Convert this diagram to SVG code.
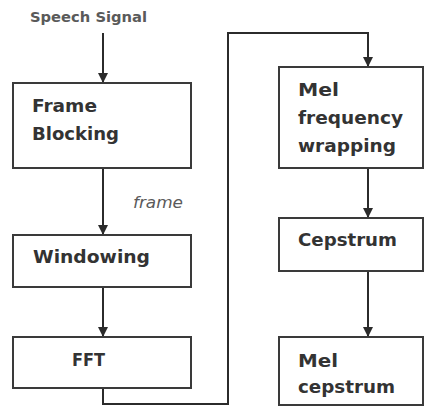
<svg xmlns="http://www.w3.org/2000/svg" width="425" height="408" viewBox="0 0 425 408">
  <defs>
    <marker id="arrow" viewBox="0 0 10 10" refX="10" refY="5" markerWidth="10" markerHeight="10" markerUnits="userSpaceOnUse" orient="auto">
      <path d="M0,0 L10,5 L0,10 Z" fill="#2b2b2b"/>
    </marker>
    <style>
      .box { fill: #ffffff; stroke: #3a3a3a; stroke-width: 2; }
      .lbl { font-family: "DejaVu Sans", "Liberation Sans", sans-serif; font-weight: bold; font-size: 18px; fill: #333333; }
      .note { font-family: "DejaVu Sans", "Liberation Sans", sans-serif; fill: #5a5a5a; }
      .wire { fill: none; stroke: #2b2b2b; stroke-width: 2; }
    </style>
  </defs>
  <rect width="425" height="408" fill="#ffffff"/>

  <text class="note" x="30" y="22" font-size="14" font-weight="bold" textLength="117" lengthAdjust="spacingAndGlyphs">Speech Signal</text>
  <text class="note" x="133" y="208" font-size="15" font-style="italic" textLength="50" lengthAdjust="spacingAndGlyphs">frame</text>

  <g id="connectors">
    <line class="wire" x1="103" y1="33" x2="103" y2="83" marker-end="url(#arrow)"/>
    <line class="wire" x1="103" y1="168" x2="103" y2="235" marker-end="url(#arrow)"/>
    <line class="wire" x1="103" y1="287" x2="103" y2="337" marker-end="url(#arrow)"/>
    <polyline class="wire" points="103,388 103,404 228,404 228,33 368,33 368,67" marker-end="url(#arrow)"/>
    <line class="wire" x1="368" y1="168" x2="368" y2="218" marker-end="url(#arrow)"/>
    <line class="wire" x1="368" y1="271" x2="368" y2="337" marker-end="url(#arrow)"/>
  </g>

  <g id="frame-blocking">
    <rect class="box" x="13" y="83" width="178" height="85"/>
    <text class="lbl" x="32" y="112" textLength="65" lengthAdjust="spacingAndGlyphs">Frame</text>
    <text class="lbl" x="32" y="140" textLength="87" lengthAdjust="spacingAndGlyphs">Blocking</text>
  </g>
  <g id="windowing">
    <rect class="box" x="13" y="235" width="178" height="52"/>
    <text class="lbl" x="33" y="263" textLength="117" lengthAdjust="spacingAndGlyphs">Windowing</text>
  </g>
  <g id="fft">
    <rect class="box" x="13" y="337" width="178" height="51"/>
    <text class="lbl" x="72" y="366" textLength="33" lengthAdjust="spacingAndGlyphs">FFT</text>
  </g>
  <g id="mel-frequency-wrapping">
    <rect class="box" x="279" y="67" width="144" height="101"/>
    <text class="lbl" x="298" y="96" textLength="41" lengthAdjust="spacingAndGlyphs">Mel</text>
    <text class="lbl" x="298" y="124" textLength="105" lengthAdjust="spacingAndGlyphs">frequency</text>
    <text class="lbl" x="298" y="152" textLength="98" lengthAdjust="spacingAndGlyphs">wrapping</text>
  </g>
  <g id="cepstrum">
    <rect class="box" x="279" y="218" width="144" height="53"/>
    <text class="lbl" x="298" y="246" textLength="99" lengthAdjust="spacingAndGlyphs">Cepstrum</text>
  </g>
  <g id="mel-cepstrum">
    <rect class="box" x="279" y="337" width="144" height="68"/>
    <text class="lbl" x="298" y="367" textLength="40" lengthAdjust="spacingAndGlyphs">Mel</text>
    <text class="lbl" x="298" y="393" textLength="97" lengthAdjust="spacingAndGlyphs">cepstrum</text>
  </g>
</svg>
